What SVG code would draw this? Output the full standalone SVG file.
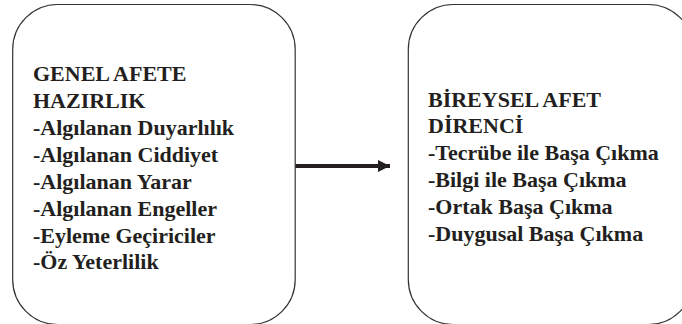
<svg xmlns="http://www.w3.org/2000/svg" width="682" height="324" viewBox="0 0 682 324">
<defs>
<marker id="ah" markerUnits="userSpaceOnUse" markerWidth="14" markerHeight="14" refX="12" refY="6" orient="auto">
<path d="M0,0 L12,6 L0,12 Z" fill="#231f20"/>
</marker>
</defs>
<rect width="682" height="324" fill="#ffffff"/>
<g id="node-genel">
<rect x="12.7" y="4.5" width="282.5" height="320" rx="45" ry="45" fill="#ffffff" stroke="#333333" stroke-width="1.2"/>
<text x="33" y="81" font-family="Liberation Serif" font-weight="bold" font-size="22" fill="#231f20" style="font-family:'Liberation Serif',serif !important">GENEL AFETE</text>
<text x="33" y="108" font-family="Liberation Serif" font-weight="bold" font-size="22" fill="#231f20" style="font-family:'Liberation Serif',serif !important">HAZIRLIK</text>
<text x="33" y="135" font-family="Liberation Serif" font-weight="bold" font-size="22" fill="#231f20" style="font-family:'Liberation Serif',serif !important">-Algılanan Duyarlılık</text>
<text x="33" y="162" font-family="Liberation Serif" font-weight="bold" font-size="22" fill="#231f20" style="font-family:'Liberation Serif',serif !important">-Algılanan Ciddiyet</text>
<text x="33" y="189" font-family="Liberation Serif" font-weight="bold" font-size="22" fill="#231f20" style="font-family:'Liberation Serif',serif !important">-Algılanan Yarar</text>
<text x="33" y="216" font-family="Liberation Serif" font-weight="bold" font-size="22" fill="#231f20" style="font-family:'Liberation Serif',serif !important">-Algılanan Engeller</text>
<text x="33" y="243" font-family="Liberation Serif" font-weight="bold" font-size="22" fill="#231f20" style="font-family:'Liberation Serif',serif !important">-Eyleme Geçiriciler</text>
<text x="33" y="269" font-family="Liberation Serif" font-weight="bold" font-size="22" fill="#231f20" style="font-family:'Liberation Serif',serif !important">-Öz Yeterlilik</text>
</g>
<g id="node-bireysel">
<rect x="408.3" y="4.5" width="285" height="320" rx="45" ry="45" fill="#ffffff" stroke="#333333" stroke-width="1.2"/>
<text x="428" y="106.5" font-family="Liberation Serif" font-weight="bold" font-size="22" fill="#231f20" style="font-family:'Liberation Serif',serif !important">BİREYSEL AFET</text>
<text x="428" y="133.3" font-family="Liberation Serif" font-weight="bold" font-size="22" fill="#231f20" style="font-family:'Liberation Serif',serif !important">DİRENCİ</text>
<text x="428" y="160.1" font-family="Liberation Serif" font-weight="bold" font-size="22" fill="#231f20" style="font-family:'Liberation Serif',serif !important">-Tecrübe ile Başa Çıkma</text>
<text x="428" y="186.9" font-family="Liberation Serif" font-weight="bold" font-size="22" fill="#231f20" style="font-family:'Liberation Serif',serif !important">-Bilgi ile Başa Çıkma</text>
<text x="428" y="213.7" font-family="Liberation Serif" font-weight="bold" font-size="22" fill="#231f20" style="font-family:'Liberation Serif',serif !important">-Ortak Başa Çıkma</text>
<text x="428" y="240.5" font-family="Liberation Serif" font-weight="bold" font-size="22" fill="#231f20" style="font-family:'Liberation Serif',serif !important">-Duygusal Başa Çıkma</text>
</g>
<g id="connectors">
<line x1="295.5" y1="166" x2="390" y2="166" stroke="#231f20" stroke-width="4" marker-end="url(#ah)"/>
</g>
</svg>
